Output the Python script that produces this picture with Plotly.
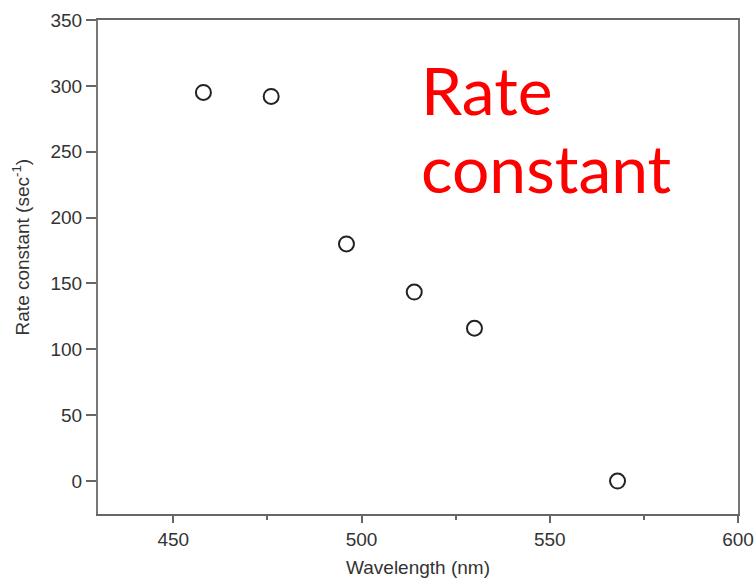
import plotly.graph_objects as go

# Measured rate constants versus excitation wavelength
wavelength_nm = [458, 476, 496, 514, 530, 568]
rate_constant = [295, 292, 180, 143.5, 116, 0]

x_ticks = [450, 500, 550, 600]
y_ticks = [0, 50, 100, 150, 200, 250, 300, 350]

axis_font = dict(family="Liberation Sans, Arial, sans-serif", size=19, color="#333333")
caption_font = dict(family="Comic Sans MS, Lato, sans-serif", size=66, color="#ff0000")

fig = go.Figure()
fig.add_trace(go.Scatter(
    x=wavelength_nm,
    y=rate_constant,
    mode="markers",
    marker=dict(symbol="circle-open", size=15, color="#222222",
                line=dict(width=2, color="#222222")),
    showlegend=False,
))

fig.update_layout(
    width=755, height=579,
    margin=dict(l=98, r=17, t=20, b=65),
    paper_bgcolor="white", plot_bgcolor="white",
    font=axis_font,
)

fig.update_xaxes(
    range=[430, 600], tickvals=x_ticks, automargin=False,
    showgrid=False, zeroline=False,
    showline=True, linecolor="#666666", linewidth=2, mirror=True,
    ticks="outside", ticklen=7, tickwidth=2, tickcolor="#666666",
    minor=dict(dtick=25, tick0=450, ticks="outside", ticklen=4, tickwidth=2, tickcolor="#666666"),
    tickfont=axis_font,
    title=dict(text="Wavelength (nm)", font=axis_font, standoff=12),
)
fig.update_yaxes(
    range=[-25, 350], tickvals=y_ticks, automargin=False,
    showgrid=False, zeroline=False,
    showline=True, linecolor="#777777", linewidth=2, mirror=True,
    ticks="outside", ticklen=10, tickwidth=2, tickcolor="#666666",
    tickfont=axis_font,
)

# Rotated y-axis title
fig.add_annotation(
    text="Rate constant (sec<sup>-1</sup>)",
    xref="paper", yref="paper", x=-0.12, y=0.54,
    xanchor="center", yanchor="middle", textangle=-90,
    showarrow=False, font=axis_font,
)

# Red two-line caption inside the plot
for line_text, y_pos in [("Rate", 0.943), ("constant", 0.785)]:
    fig.add_annotation(
        text=line_text,
        xref="paper", yref="paper", x=0.502, y=y_pos,
        xanchor="left", yanchor="top", align="left",
        showarrow=False, font=caption_font,
    )

fig.write_html("out.html")
